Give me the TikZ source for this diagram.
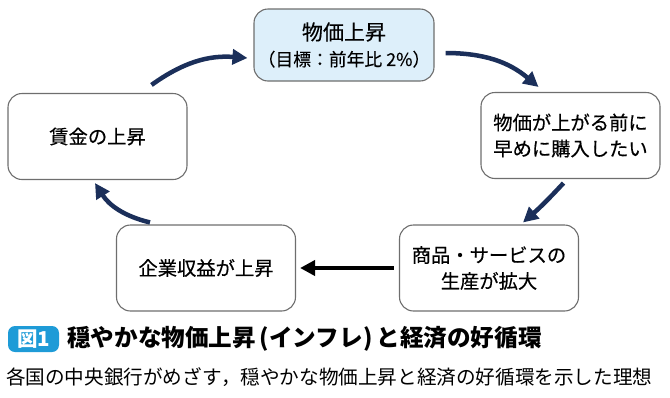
\documentclass[tikz,border=0pt]{standalone}
\usepackage{fontspec}
\setmainfont{Noto Sans CJK JP}
\newfontfamily\jpmed{Noto Sans CJK JP}[FakeBold=0.35]
\usetikzlibrary{arrows.meta, positioning, calc}
\definecolor{navy}{HTML}{1B2F5A}
\definecolor{paleblue}{HTML}{DDEFFA}
\definecolor{tagblue}{HTML}{1E9BD7}
\definecolor{boxgray}{HTML}{6E6E6E}

\begin{document}
\begin{tikzpicture}[
    x=1pt, y=-1pt,
    stage/.style={draw=boxgray, line width=1.1pt, rounded corners=14pt, fill=white,
        minimum width=179pt, minimum height=86pt, align=center,
        font=\jpmed\fontsize{19.3}{26}\selectfont},
    cyc/.style={-{Triangle[length=15pt, width=15pt]}, line width=4.5pt, navy},
    flow/.style={-{Triangle[length=15pt, width=15pt]}, line width=4.5pt, black}
]
\useasboundingbox (0,0) rectangle (670,397);

% cycle of stages
\node[stage, fill=paleblue, minimum height=72pt, minimum width=180pt] (price) at (344,45)
    {\fontsize{21}{25}\selectfont 物価上昇\\[0pt]\fontsize{17.8}{20}\selectfont （目標：前年比 2\%）};
\node[stage] (buy) at (570.5,135.5) {物価が上がる前に\\早めに購入したい};
\node[stage] (prod) at (489,268) {商品・サービスの\\生産が拡大};
\node[stage] (profit) at (206,268) {企業収益が上昇};
\node[stage] (wage) at (97.5,136.5) {賃金の上昇};

\draw[cyc] ($(wage.north)+(54,-8)$) to[bend left=20] ($(price.west)+(-6,13)$);
\draw[cyc] ($(price.east)+(11,8)$) to[bend left=20] ($(buy.north)+(-32,-5)$);
\draw[cyc] ($(buy.south)+(-7,4)$) to[bend left=3] ($(prod.north)+(34,-2)$);
\draw[flow] ($(prod.west)+(-5,0)$) -- ($(profit.east)+(4,0)$);
\draw[cyc] ($(profit.north)+(-56,-2)$) to[bend left=22] ($(wage.south)+(-2.5,3)$);

% caption
\node[fill=tagblue, rounded corners=7pt, minimum width=51pt, minimum height=26pt,
    text=white, font=\bfseries\fontsize{20.5}{22}\selectfont] (tag) at (33.5,339) {図1};
\node[anchor=west, font=\bfseries\fontsize{23.6}{25}\selectfont, inner sep=0pt]
    (title) at (67,339) {穏やかな物価上昇\,(インフレ)\,と経済の好循環};
\node[anchor=west, font=\fontsize{19.6}{22}\selectfont, inner sep=0pt]
    (sub) at (6,377) {各国の中央銀行がめざす，穏やかな物価上昇と経済の好循環を示した理想};
\end{tikzpicture}
\end{document}
